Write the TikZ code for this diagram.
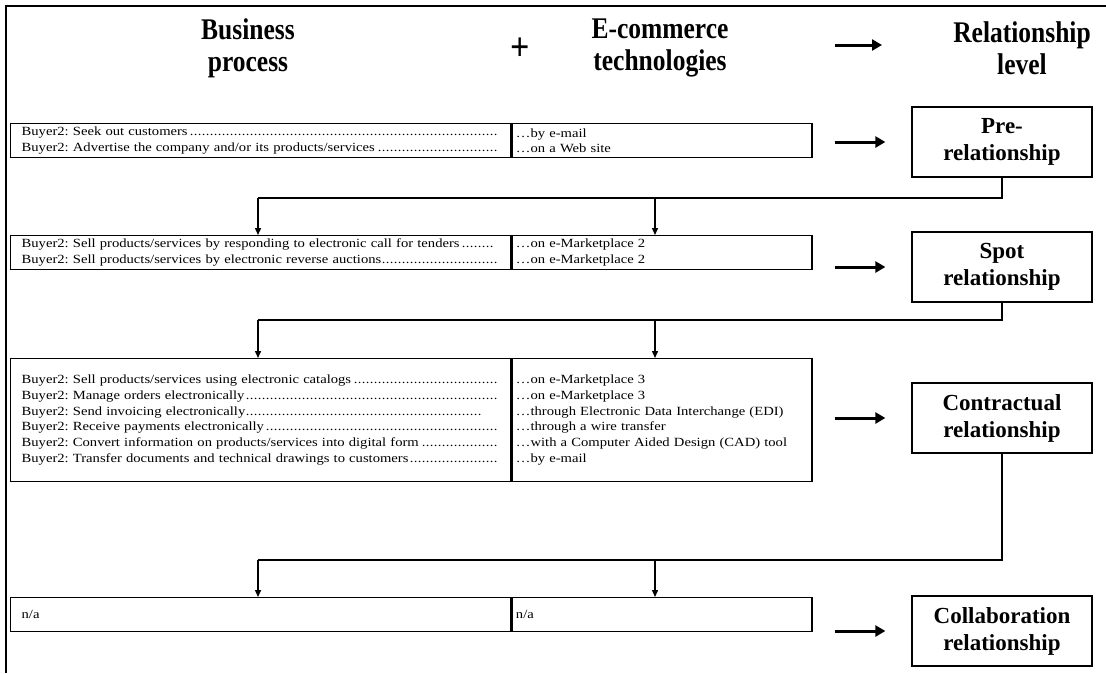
\documentclass[tikz,border=0pt]{standalone}
\usepackage{fontspec}
\setmainfont{Liberation Serif}
\newfontfamily\headfont[FakeStretch=0.85]{Liberation Serif}
\newfontfamily\rowfont[FakeStretch=1.17]{Liberation Serif}
\usetikzlibrary{arrows.meta}
% closely spaced leader dots up to the right edge of a line
\newcommand\lead{\leaders\hbox to 4pt{\hss.\hss}\hskip 0pt plus 1fill\kern0pt}

\begin{document}
\begin{tikzpicture}[x=1pt,y=-1pt,
  cell/.style={draw, line width=1.3pt, anchor=north west, inner ysep=0pt,
    align=left, minimum height=34pt, font=\rowfont\fontsize{12.5}{15.7}\selectfont\frenchspacing},
  leftcell/.style={cell, text width=478pt, inner xsep=11pt},
  rightcell/.style={cell, text width=292pt, inner xsep=4pt},
  lvlbox/.style={draw, line width=1.3pt, align=center, inner sep=0pt,
    minimum width=180pt, minimum height=70pt, font=\fontsize{23}{27}\selectfont\bfseries},
  head/.style={align=center, inner sep=0pt, font=\headfont\fontsize{30}{32}\selectfont\bfseries},
  bigarrow/.style={line width=3pt, -{Triangle[length=10pt,width=11pt]}},
  conn/.style={line width=1.4pt},
  connarrow/.style={line width=1.4pt, -{Triangle[length=7pt,width=6pt]}},
]
\useasboundingbox (0,0) rectangle (1106,673);

% open frame: top and left edges
\draw[line width=1.8pt] (1106,6) -- (6,6) -- (6,673);

% column headings
\node[head] (hbp) at (248,48) {Business\\process};
\node[head, font=\headfont\fontsize{40}{40}\selectfont\bfseries] (hplus) at (520,49) {+};
\node[head] (hec) at (660,48) {E-commerce\\technologies};
\node[head] (hrl) at (1022,48) {Relationship\\level};
\coordinate (ha1) at (835,45);
\coordinate (ha2) at (882,45);
\draw[bigarrow] (ha1) -- (ha2);

% row 1
\node[leftcell] (r1l) at (10,123) {Buyer2: Seek out customers\lead\\
Buyer2: Advertise the company and/or its products/services\lead};
\node[rightcell] (r1r) at (r1l.north east) {…by e-mail\\…on a Web site};
\node[lvlbox] (pre) at (1002,142) {Pre-\\relationship};
\draw[bigarrow] ([xshift=22pt]r1r.east |- pre.center) -- ([xshift=-26pt]pre.west);

% row 2
\node[leftcell] (r2l) at (10,235) {Buyer2: Sell products/services by responding to electronic call for tenders\lead\kern4pt\\
Buyer2: Sell products/services by electronic reverse auctions\lead};
\node[rightcell] (r2r) at (r2l.north east) {…on e-Marketplace 2\\…on e-Marketplace 2};
\node[lvlbox] (spot) at (1002,267) {Spot\\relationship};
\draw[bigarrow] ([xshift=22pt]r2r.east |- spot.center) -- ([xshift=-26pt]spot.west);

% row 3
\node[leftcell, minimum height=123pt] (r3l) at (10,358) {Buyer2: Sell products/services using electronic catalogs\lead\\
Buyer2: Manage orders electronically\lead\\
Buyer2: Send invoicing electronically\lead\kern16pt\\
Buyer2: Receive payments electronically\lead\\
Buyer2: Convert information on products/services into digital form\lead\\
Buyer2: Transfer documents and technical drawings to customers\lead\par\vspace*{12pt}};
\node[rightcell, minimum height=123pt] (r3r) at (r3l.north east) {…on e-Marketplace 3\\
…on e-Marketplace 3\\
…through Electronic Data Interchange (EDI)\\
…through a wire transfer\\
…with a Computer Aided Design (CAD) tool\\
…by e-mail\par\vspace*{12pt}};
\node[lvlbox] (con) at (1002,418) {Contractual\\relationship};
\draw[bigarrow] ([xshift=22pt]r3r.east |- con.center) -- ([xshift=-26pt]con.west);

% row 4
\node[leftcell] (r4l) at (10,597) {n/a};
\node[rightcell] (r4r) at (r4l.north east) {n/a};
\node[lvlbox] (col) at (1002,631) {Collaboration\\relationship};
\draw[bigarrow] ([xshift=22pt]r4r.east |- col.center) -- ([xshift=-26pt]col.west);

% connectors from each level down to the next row
\coordinate (j1a) at (258,198);
\coordinate (j1b) at (655,198);
\draw[conn] (pre.south) |- (j1a);
\draw[connarrow] (j1a) -- (j1a |- r2l.north);
\draw[connarrow] (j1b) -- (j1b |- r2r.north);

\coordinate (j2a) at (258,320);
\coordinate (j2b) at (655,320);
\draw[conn] (spot.south) |- (j2a);
\draw[connarrow] (j2a) -- (j2a |- r3l.north);
\draw[connarrow] (j2b) -- (j2b |- r3r.north);

\coordinate (j3a) at (258,560);
\coordinate (j3b) at (655,560);
\draw[conn] (con.south) |- (j3a);
\draw[connarrow] (j3a) -- (j3a |- r4l.north);
\draw[connarrow] (j3b) -- (j3b |- r4r.north);
\end{tikzpicture}
\end{document}
